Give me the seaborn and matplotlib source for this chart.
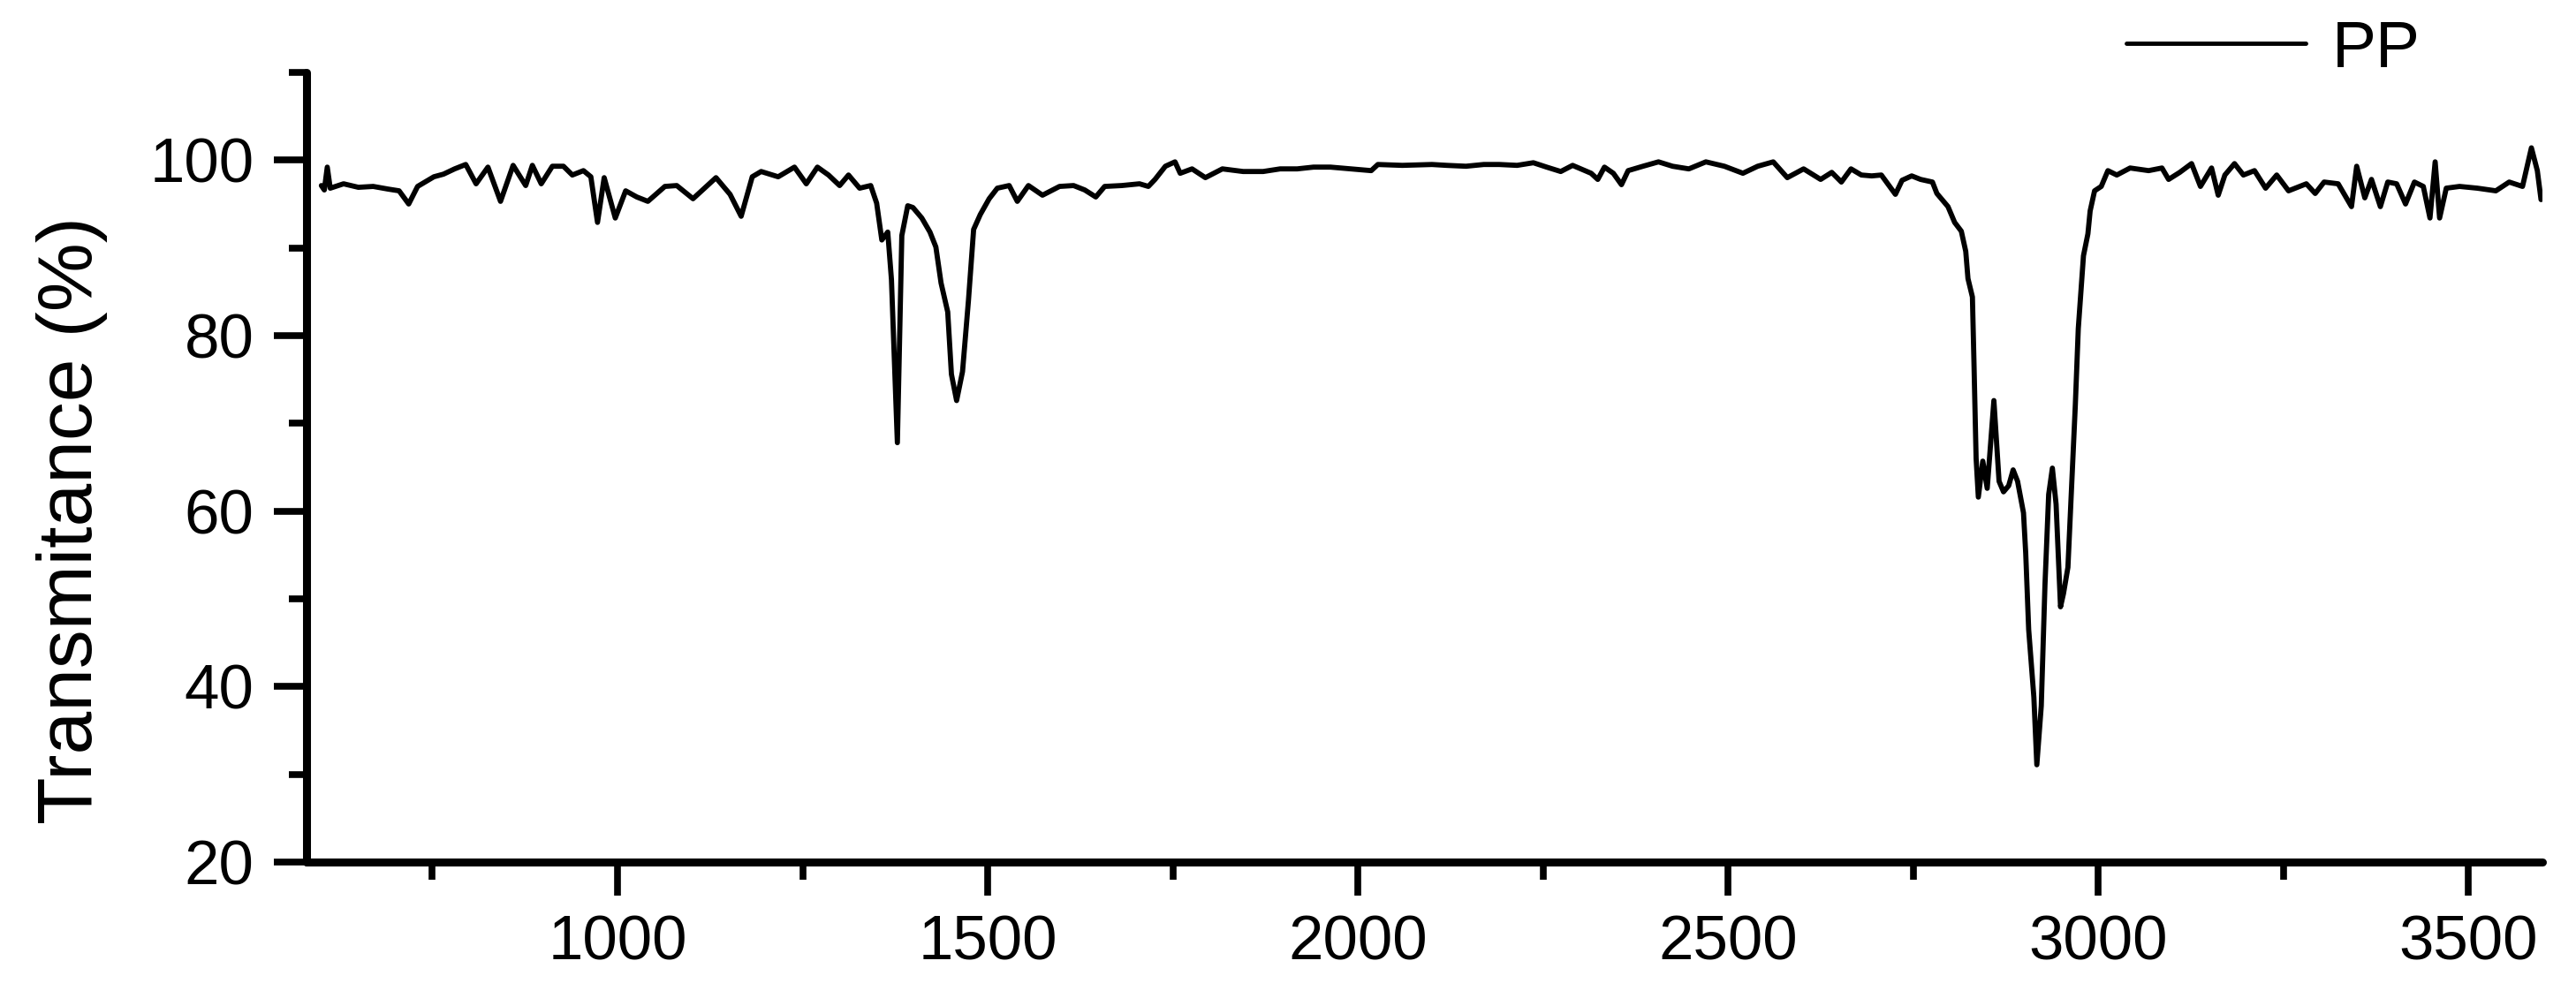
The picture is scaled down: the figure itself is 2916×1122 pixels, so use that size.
import matplotlib
matplotlib.use("Agg")
import matplotlib.pyplot as plt
import seaborn as sns
import pandas as pd

# FTIR spectrum of PP
wavenumber = [600, 604, 608, 612, 630, 650, 670, 690, 705, 718, 730, 752, 765, 780, 795,
              809, 825, 842, 859, 876, 885, 897, 912, 927, 939, 954, 964, 973, 982, 997,
              1011, 1026, 1041, 1064, 1080, 1102, 1133, 1152, 1167, 1182, 1194, 1217, 1239,
              1255, 1270, 1285, 1300, 1312, 1327, 1342, 1350, 1357, 1365, 1370, 1378, 1384,
              1392, 1399, 1411, 1422, 1430, 1437, 1446, 1451, 1458, 1466, 1474, 1481, 1490,
              1502, 1513, 1529, 1540, 1555, 1574, 1597, 1616, 1631, 1646, 1658, 1681, 1705,
              1717, 1726, 1740, 1753, 1760, 1776, 1794, 1817, 1845, 1872, 1895, 1918, 1940,
              1963, 1990, 2018, 2027, 2060, 2100, 2120, 2146, 2170, 2191, 2215, 2237, 2255,
              2274, 2290, 2301, 2315, 2324, 2333, 2345, 2356, 2365, 2385, 2406, 2425, 2447,
              2470, 2495, 2520, 2540, 2561, 2580, 2602, 2625, 2640, 2653, 2666, 2680, 2694,
              2707, 2726, 2735, 2748, 2760, 2776, 2782, 2797, 2806, 2815, 2821, 2824, 2830,
              2832, 2835, 2838, 2844, 2850, 2859, 2866, 2872, 2879, 2885, 2891, 2899, 2902,
              2906, 2913, 2917, 2923, 2928, 2933, 2938, 2943, 2949, 2953, 2959, 2964, 2969,
              2973, 2980, 2986, 2989, 2995, 3004, 3013, 3025, 3043, 3068, 3086, 3095, 3110,
              3126, 3138, 3153, 3162, 3171, 3184, 3196, 3211, 3226, 3241, 3257, 3281, 3293,
              3305, 3324, 3342, 3349, 3360, 3369, 3381, 3391, 3403, 3415, 3427, 3439, 3448,
              3455, 3461, 3470, 3488, 3512, 3537, 3555, 3573, 3585, 3593, 3598]

transmittance = [97.1, 96.6, 99.2, 96.8, 97.3, 96.9, 97.0, 96.7, 96.5, 95.0, 97.0, 98.1, 98.4, 99.0, 99.5,
                 97.3, 99.2, 95.3, 99.4, 97.1, 99.4, 97.3, 99.3, 99.3, 98.3, 98.8, 98.1, 92.9, 98.0, 93.4,
                 96.5, 95.8, 95.3, 97.0, 97.1, 95.6, 98.0, 96.1, 93.6, 98.1, 98.7, 98.1, 99.2,
                 97.3, 99.2, 98.3, 97.1, 98.3, 96.8, 97.1, 95.1, 90.9, 91.8, 86.4, 67.8, 91.4,
                 94.8, 94.6, 93.4, 91.8, 90.1, 86.0, 82.7, 75.6, 72.6, 75.9, 84.0, 92.1, 93.8,
                 95.6, 96.8, 97.1, 95.3, 97.1, 96.0, 97.0, 97.1, 96.6, 95.8, 97.0, 97.1, 97.3,
                 97.0, 97.8, 99.3, 99.8, 98.5, 99.0, 98.0, 99.0, 98.7, 98.7, 99.0, 99.0, 99.2,
                 99.2, 99.0, 98.8, 99.5, 99.4, 99.5, 99.4, 99.3, 99.5, 99.5, 99.4, 99.7, 99.2,
                 98.7, 99.4, 99.0, 98.5, 97.8, 99.2, 98.5, 97.2, 98.8, 99.3, 99.8, 99.3, 99.0,
                 99.8, 99.3, 98.5, 99.3, 99.8, 98.0, 99.0, 97.8, 98.6, 97.5, 99.0, 98.3, 98.2,
                 98.3, 96.1, 97.7, 98.2, 97.8, 97.5, 96.2, 94.7, 92.9, 91.9, 89.6, 86.5, 84.4,
                 77.3, 66.0, 61.6, 65.7, 62.6, 72.6, 63.4, 62.2, 62.9, 64.7, 63.4, 59.8, 55.2,
                 46.5, 38.8, 31.1, 37.8, 51.6, 61.9, 64.9, 60.8, 49.1, 50.6, 53.6, 62.9, 72.1,
                 80.8, 89.1, 91.6, 94.2, 96.5, 97.0, 98.8, 98.3, 99.1, 98.8, 99.1, 97.8, 98.6,
                 99.6, 97.0, 99.1, 96.0, 98.3, 99.6, 98.3, 98.8, 96.8, 98.3, 96.5, 97.3, 96.2,
                 97.5, 97.3, 94.7, 99.3, 95.7, 97.8, 94.7, 97.5, 97.3, 95.0, 97.5, 97.0, 93.4,
                 99.8, 93.4, 96.8, 97.0, 96.8, 96.5, 97.5, 97.0, 101.4, 98.8, 95.5]

x_major = [1000, 1500, 2000, 2500, 3000, 3500]
x_minor = [750, 1250, 1750, 2250, 2750, 3250]
y_major = [20, 40, 60, 80, 100]
y_minor = [30, 50, 70, 90, 110]

df = pd.DataFrame({"Wavenumber": wavenumber, "Transmitance": transmittance})

sns.set_style("ticks", {"axes.edgecolor": "black", "xtick.color": "black",
                        "ytick.color": "black", "text.color": "black",
                        "axes.labelcolor": "black"})
plt.rcParams['font.family'] = ['Liberation Sans', 'DejaVu Sans']

fig = plt.figure(figsize=(29.16, 11.22), dpi=100)
ax = fig.add_axes([0.119, 0.130, 0.868, 0.797])

sns.lineplot(data=df, x="Wavenumber", y="Transmitance", color="black",
             linewidth=4.2, sort=False, estimator=None, label="PP", ax=ax)

ax.set_xlim(580, 3600)
ax.set_ylim(20, 110)
ax.set_xticks(x_major)
ax.set_xticks(x_minor, minor=True)
ax.set_yticks(y_major)
ax.set_yticks(y_minor, minor=True)

for s in ["top", "right"]:
    ax.spines[s].set_visible(False)
for s in ["left", "bottom"]:
    ax.spines[s].set_linewidth(6.5)
    ax.spines[s].set_capstyle("round")

ax.tick_params(which="major", direction="out", length=27, width=5.5, labelsize=51, pad=16,
               colors="black")
ax.tick_params(which="minor", direction="out", length=14.5, width=5.5, colors="black")

ax.set_xlabel("")
ax.set_ylabel("Transmitance (%)", fontsize=63, color="black")
ax.yaxis.set_label_coords(-0.089, 0.433)

leg = ax.legend(loc="center left", bbox_to_anchor=(2407 / 2916, 1 - 56 / 1122),
                bbox_transform=fig.transFigure, frameon=False, fontsize=54,
                handlelength=2.7, handletextpad=0.4, borderpad=0, borderaxespad=0)
for line in leg.get_lines():
    line.set_linewidth(3.5)
for t in leg.get_texts():
    t.set_color("black")

fig.savefig("out.png", dpi=100)
